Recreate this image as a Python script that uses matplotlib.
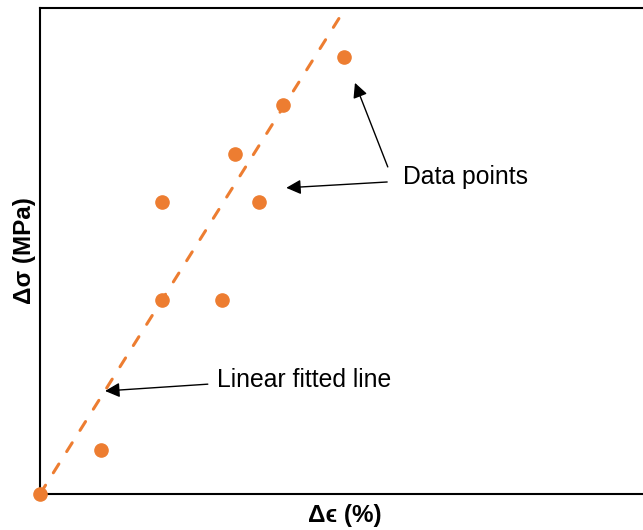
import numpy as np
import matplotlib.pyplot as plt

plt.rcParams['font.family'] = ['Liberation Sans', 'DejaVu Sans']

# data points (strain change, stress change) in arbitrary units
strain = [0, 1, 2, 2, 3, 3.2, 3.6, 4, 5]
stress = [0, 0.9, 4, 6, 4, 7, 6, 8, 9]

# linear fit through origin as drawn
fit_x = [0, 5.02]
fit_slope = 1.99

orange = '#ED7D31'

fig = plt.figure(figsize=(6.43, 5.30), dpi=100)
# right spine sits past the figure edge in the reference
ax = fig.add_axes([40 / 643, 36 / 530, 610 / 643, 486 / 530])
ax.set_xlim(0, 610 / 60.8)
ax.set_ylim(0, 486 / 48.6)

fx = np.array(fit_x)
ax.plot(fx, fit_slope * fx, color=orange, lw=2.2, linestyle=(0, (3.4, 4.8)),
        dash_capstyle='round', zorder=2)
ax.plot(strain, stress, 'o', color=orange, markersize=9.5, clip_on=False, zorder=3)

for s in ax.spines.values():
    s.set_linewidth(1.5)
ax.set_xticks([])
ax.set_yticks([])

ax.set_xlabel('Δϵ (%)', fontsize=17.5, fontweight='bold', labelpad=7)
ax.set_ylabel('Δσ (MPa)', fontsize=17.5, fontweight='bold', labelpad=3)

arrow = dict(arrowstyle='-|>', color='black', lw=1, mutation_scale=22, shrinkA=0, shrinkB=0)

ax.text(5.97, 6.52, 'Data points', fontsize=17.8, va='center', ha='left')
ax.annotate('', xy=(4.05, 6.30), xytext=(5.71, 6.42), arrowprops=arrow)
ax.annotate('', xy=(5.18, 8.46), xytext=(5.72, 6.73), arrowprops=arrow)

ax.text(2.91, 2.35, 'Linear fitted line', fontsize=17.8, va='center', ha='left')
ax.annotate('', xy=(1.07, 2.12), xytext=(2.76, 2.26), arrowprops=arrow)

plt.savefig('out.png', dpi=100)
